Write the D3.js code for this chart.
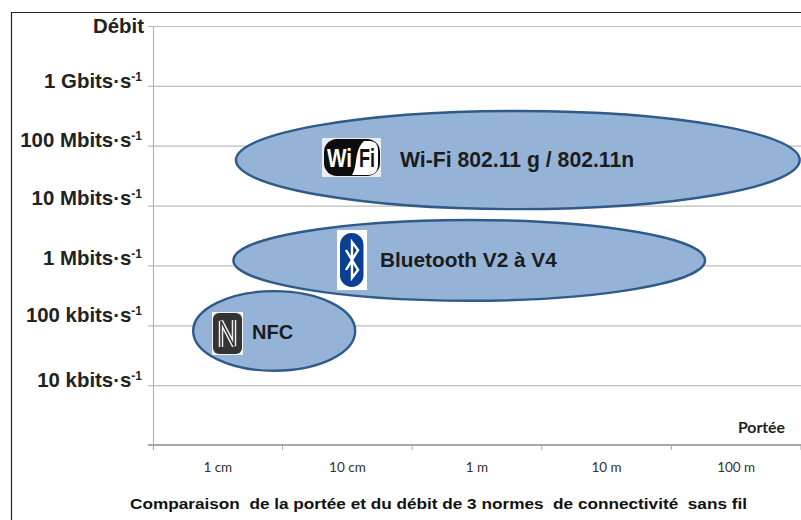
<!DOCTYPE html>
<html><head><meta charset="utf-8">
<script src="https://cdn.jsdelivr.net/npm/d3@7/dist/d3.min.js"></script>
<style>html,body{margin:0;padding:0;background:#fff}svg{display:block}text{font-family:"Liberation Sans",Arial,sans-serif}</style>
</head><body><svg id="c" width="801" height="520"></svg>
<script>
const rangeLabels = ["1 cm","10 cm","1 m","10 m","100 m"];
const rateLevels = [1,2,3,4,5,6,7];
const rateLabels = ["10 kbits·s","100 kbits·s","1 Mbits·s","10 Mbits·s","100 Mbits·s","1 Gbits·s","Débit"];
const techNames = ["Wi-Fi 802.11 g / 802.11n","Bluetooth V2 à V4","NFC"];
const rangeMin = [0.64,0.62,0.31];
const rangeMax = [4.99,4.26,1.56];
const rateMin = [3.94,2.41,1.24];
const rateMax = [5.58,3.76,2.57];

const svg = d3.select("#c");
const x = d3.scaleLinear().domain([0,5]).range([153,801]);
const y = d3.scaleLinear().domain([0,7]).range([445,26]);

// frame
svg.append("path").attr("d","M11.5,520V12.5H801").attr("fill","none").attr("stroke","#222").attr("stroke-width",1.2);

// grid
svg.append("g").selectAll("line").data(rateLevels).join("line")
  .attr("x1",148).attr("x2",801).attr("y1",d=>y(d)+.5).attr("y2",d=>y(d)+.5)
  .attr("stroke","#bdbdbd").attr("stroke-width",1.2);
// axes
svg.append("line").attr("x1",153.5).attr("x2",153.5).attr("y1",26).attr("y2",450).attr("stroke","#b5b5b5").attr("stroke-width",1.2);
svg.append("line").attr("x1",148).attr("x2",801).attr("y1",445).attr("y2",445).attr("stroke","#a8a8a8").attr("stroke-width",1.8);
svg.append("g").selectAll("line").data(d3.range(0,6)).join("line")
  .attr("x1",d=>x(d)+(d==0?.5:0)).attr("x2",d=>x(d)+(d==0?.5:0)).attr("y1",445).attr("y2",450)
  .attr("stroke","#a8a8a8");

// y labels
const labelShift = [2,-3,0,-1,1,2,7];
const yl = svg.append("g").selectAll("text").data(rateLevels).join("text")
  .attr("x",d=>d===7?144:142).attr("y",(d,i)=>y(d)+labelShift[i])
  .attr("text-anchor","end").attr("font-weight","bold").attr("font-size",20.4).attr("fill","#222");
yl.each(function(d,i){
  const t=d3.select(this);
  t.append("tspan").text(rateLabels[i]);
  if(d!==7) t.append("tspan").text("-1").attr("font-size",12).attr("dy",-7);
});

// x labels
svg.append("g").selectAll("text").data(rangeLabels).join("text")
  .attr("x",(d,i)=>x(i+.5)).attr("y",472).attr("text-anchor","middle")
  .attr("font-size",13.5).style("font-family","Lato,sans-serif").attr("fill","#333").text(d=>d);
svg.append("text").attr("x",785).attr("y",433).attr("text-anchor","end").attr("font-weight","bold")
  .attr("font-size",15.8).style("font-family","Lato,sans-serif").attr("fill","#222").text("Portée");

// ellipses
svg.append("g").selectAll("ellipse").data(techNames).join("ellipse")
  .attr("cx",(d,i)=>(x(rangeMin[i])+x(rangeMax[i]))/2)
  .attr("cy",(d,i)=>(y(rateMin[i])+y(rateMax[i]))/2)
  .attr("rx",(d,i)=>(x(rangeMax[i])-x(rangeMin[i]))/2)
  .attr("ry",(d,i)=>(y(rateMin[i])-y(rateMax[i]))/2)
  .attr("fill","#95b3d7").attr("stroke","#2f5a8a").attr("stroke-width",2.4);

// ellipse labels
const lx=[400,380,252], ly=[167,267,339];
const lw=[21.2,20.8,20];
svg.append("g").selectAll("text").data(techNames).join("text")
  .attr("x",(d,i)=>lx[i]).attr("y",(d,i)=>ly[i]).attr("font-weight","bold")
  .attr("font-size",(d,i)=>lw[i]).attr("fill","#1c1c1c").text(d=>d);

// Wi-Fi logo
const w=svg.append("g");
w.append("rect").attr("x",322).attr("y",138).attr("width",59).attr("height",39).attr("fill","#e9edf2");
w.append("rect").attr("x",324).attr("y",139).attr("width",56).attr("height",37).attr("rx",13).attr("fill","#0c0c0c");
w.append("path").attr("d","M352,175C358,166 354,150 364,141H370Q378,141 378,151V164Q378,175 368,175Z").attr("fill","#fff");
w.append("text").attr("x",327).attr("y",167).attr("font-weight","bold").attr("font-size",25).attr("fill","#fff").attr("textLength",25).attr("lengthAdjust","spacingAndGlyphs").text("Wi");
w.append("text").attr("x",359).attr("y",167).attr("font-weight","bold").attr("font-size",25).attr("fill","#111").attr("textLength",16).attr("lengthAdjust","spacingAndGlyphs").text("Fi");

// Bluetooth logo
const b=svg.append("g");
b.append("rect").attr("x",337).attr("y",230).attr("width",30).attr("height",60).attr("fill","#fff");
b.append("rect").attr("x",340).attr("y",233).attr("width",23.5).attr("height",54).attr("rx",11.7).attr("fill","#0b3f94");
b.append("path").attr("d","M346,250L358,270L352,278V242L358,250L346,270").attr("fill","none").attr("stroke","#fff").attr("stroke-width",2.4);

// NFC logo
const n=svg.append("g");
n.append("rect").attr("x",212).attr("y",312).attr("width",31).attr("height",43).attr("fill","#f2f2f2");
n.append("rect").attr("x",213).attr("y",313).attr("width",29).attr("height",41).attr("rx",6).attr("fill","#333");
n.append("path").attr("d","M221,347V321L234,346V320").attr("fill","none").attr("stroke","#eee").attr("stroke-width",4.5);
n.append("path").attr("d","M221,347V321L234,346V320").attr("fill","none").attr("stroke","#333").attr("stroke-width",1.6);

// caption
svg.append("text").attr("x",130).attr("y",509).attr("font-weight","bold").attr("font-size",15.2).attr("fill","#111")
  .attr("textLength",617).attr("lengthAdjust","spacingAndGlyphs").style("white-space","pre")
  .text("Comparaison  de la portée et du débit de 3 normes  de connectivité  sans fil");
</script></body></html>
